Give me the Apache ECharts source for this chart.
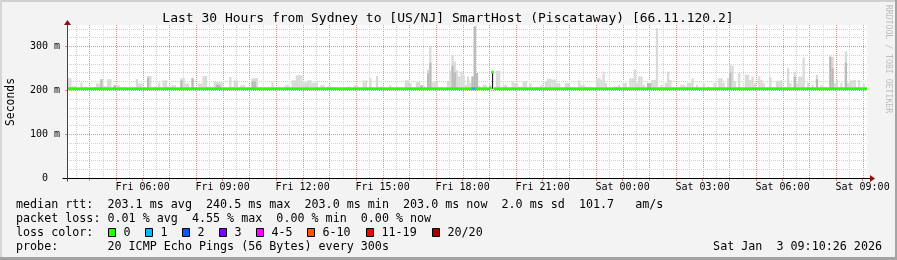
<!DOCTYPE html>
<html><head><meta charset="utf-8">
<script src="https://cdn.jsdelivr.net/npm/echarts@6/dist/echarts.min.js"></script>
<style>html,body{margin:0;padding:0;background:#f3f3f3}#c{width:897px;height:260px}</style>
</head><body><div id="c"></div>
<script>
// time in minutes since Fri 00:00; 5-minute steps from Fri 03:10 to Sat 09:10
const startMin = 190;
const stepMin = 5;
const endMin = 1990;

// top of the smoke (ms) per 5-minute step
const smokeMax = [
227,227,209,209,205,206,217,206,208,205, 206,205,207,215,215,225,209,209,225,225,
206,211,211,211,206,207,207,205,206,205, 206,225,215,215,206,205,232,232,206,208,
208,217,206,222,222,208,208,211,211,205, 206,227,227,215,215,206,227,206,205,215,
215,232,232,208,208,206,218,218,218,218, 206,205,206,230,207,222,222,206,211,211,
205,206,205,227,227,227,206,207,207,205, 206,205,218,206,208,208,205,206,211,211,
206,222,222,233,234,234,218,218,222,222, 217,217,217,206,211,211,205,208,208,208,
207,207,205,206,205,206,208,208,205,211, 211,206,205,222,222,206,227,206,205,232,
206,208,208,205,206,211,206,205,208,206, 205,206,222,222,215,206,205,218,218,211,
211,206,246,301,218,218,218,206,207,205, 206,221,244,279,265,245,231,242,234,212,
231,216,231,345,239,209,206,212,212,205, 212,241,206,244,244,206,212,212,205,206,
220,216,216,208,208,220,220,206,214,206, 206,208,206,212,206,220,226,226,224,224,
216,216,206,205,216,216,208,206,205,206, 222,212,212,208,206,208,206,206,227,227,
224,242,216,206,205,206,208,208,212,206, 216,216,206,227,227,247,216,231,231,212,
206,216,216,223,223,341,206,212,206,216, 242,223,206,206,208,206,212,212,208,216,
216,227,206,212,206,206,216,206,208,206, 206,216,206,227,227,216,206,227,258,255,
220,206,239,206,206,235,235,223,231,216, 206,231,223,216,206,206,229,206,206,221,
221,223,206,206,250,216,206,241,216,231, 231,274,206,216,206,212,206,235,206,212,
206,206,206,276,276,216,223,206,216,206, 288,216,222,222,223,206,223,206,216,206
];

// median rtt (ms) per step
const median = [
203,203,203,203,203,203,203,203,203,203, 203,203,203,203,203,203,203,203,203,203,
203,203,203,203,203,203,203,203,203,203, 203,203,203,203,203,203,203,203,203,203,
203,203,203,203,203,203,203,203,203,203, 203,203,203,203,203,203,203,203,203,203,
203,203,203,203,203,203,203,203,203,203, 203,203,203,203,203,203,203,203,203,203,
203,203,203,203,203,203,203,203,203,203, 203,203,203,203,203,203,203,203,203,203,
203,203,203,203,203,203,203,203,203,203, 203,203,203,203,203,203,203,203,203,203,
203,203,203,203,203,203,203,203,203,203, 203,203,203,203,203,203,203,203,203,203,
203,203,203,203,203,203,203,203,203,203, 203,203,203,203,203,203,203,203,203,203,
203,203,203,203,203,203,203,203,203,203, 203,203,203,203,203,203,203,203,203,203,
203,203,203,203,203,203,203,203,203,203, 205,241,203,203,203,203,203,203,203,203,
203,203,203,203,203,203,203,203,203,203, 203,203,203,203,203,203,203,203,203,203,
203,203,203,203,203,203,203,203,203,203, 203,203,203,203,203,203,203,203,203,203,
203,203,203,203,203,203,203,203,203,203, 203,203,203,203,203,203,203,203,203,203,
203,203,203,203,203,203,203,203,203,203, 203,203,203,203,203,203,203,203,203,203,
203,203,203,203,203,203,203,203,203,203, 203,203,203,203,203,203,203,203,203,203,
203,203,203,203,203,203,203,203,203,203, 203,203,203,203,203,203,203,203,203,203,
203,203,203,203,203,203,203,203,203,203, 203,203,203,203,203,203,203,203,203,203,
203,203,203,203,203,203,203,203,203,203, 203,203,203,203,203,203,203,203,203,203
];

// darker inner smoke: [step index, top ms]
const darkSmoke = [
[15,225],[21,211],[36,228],[51,222],[56,227],[67,212],[68,212],[83,220],[84,220],
[159,211],[162,238],[163,262],[173,255],[174,240],[182,231],[183,345],[184,239],
[261,216],[262,216],[298,240],[327,230],[337,225],[343,276],[344,250],[350,262]
];
// near-black bar: [step index, low ms, high ms]
const blackBars = [[191, 203, 241]];
// loss marks on the median: [step index, loss level index]
const lossPoints = [[182, 1], [183, 1]];

const lossLabels = ['0','1','2','3','4-5','6-10','11-19','20/20'];
const lossColors = ['#26ff00','#00b8ff','#0059ff','#7e00ff','#ff00ff','#ff5500','#ff0000','#a10000'];

const xLabelValues = [360,540,720,900,1080,1260,1440,1620,1800,1980];
const xLabelTexts = ['Fri 06:00','Fri 09:00','Fri 12:00','Fri 15:00','Fri 18:00','Fri 21:00','Sat 00:00','Sat 03:00','Sat 06:00','Sat 09:00'];
const yLabelValues = [0,100,200,300];
const yLabelTexts = ['0  ','100 m','200 m','300 m'];

const titleText = 'Last 30 Hours from Sydney to [US/NJ] SmartHost (Piscataway) [66.11.120.2]';
const statLines = [
  'median rtt:  203.1 ms avg  240.5 ms max  203.0 ms min  203.0 ms now  2.0 ms sd  101.7   am/s',
  'packet loss: 0.01 % avg  4.55 % max  0.00 % min  0.00 % now',
  'loss color:',
  'probe:       20 ICMP Echo Pings (56 Bytes) every 300s'
];
const dateText = 'Sat Jan  3 09:10:26 2026';
const sideText = 'RRDTOOL / TOBI OETIKER';

const yMax = 348;
const xOf = i => startMin + stepMin * (i + 0.5);

// grid lines: vertical every 30 min (major each hour), horizontal every 20 ms (major each 100 ms)
const vGrid = [], hGrid = [];
for (let m = 210; m < endMin; m += 30) vGrid.push(m);
for (let v = 20; v <= 340; v += 20) hGrid.push(v);
const hourTicks = [];
for (let m = 240; m < endMin; m += 60) hourTicks.push(m);

const chart = echarts.init(document.getElementById('c'), null, {renderer:'canvas'});
const mono = '"DejaVu Sans Mono", monospace';
const minorColor = '#d0d0d0';
const majorColor = '#f28a8a';

function rectRender(color, widthFrac) {
  return function (params, api) {
    const x = api.value(0), lo = api.value(1), hi = api.value(2);
    const pTop = api.coord([x, hi]);
    const pBot = api.coord([x, lo]);
    const w = api.size([stepMin, 0])[0] * (widthFrac || 1);
    return {
      type: 'rect',
      shape: {x: pTop[0] - w / 2, y: pTop[1], width: w, height: pBot[1] - pTop[1]},
      style: {fill: color}
    };
  };
}

const option = {
  backgroundColor: '#f3f3f3',
  animation: false,
  grid: {left: 67, right: 30, top: 25, bottom: 82, show: true, backgroundColor: '#ffffff', borderWidth: 0, z: 0},
  xAxis: {
    type: 'value', min: startMin, max: endMin,
    axisLine: {show: false},
    axisTick: {show: true, customValues: hourTicks, length: 3, lineStyle: {color: '#f08080'}},
    axisLabel: {
      customValues: xLabelValues, margin: 4,
      fontFamily: 'DejaVu Sans Mono', fontSize: 10, color: '#000',
      formatter: v => { const k = xLabelValues.indexOf(v); return k >= 0 ? xLabelTexts[k] : ''; }
    },
    splitLine: {show: false}
  },
  yAxis: {
    type: 'value', min: 0, max: yMax,
    axisLine: {show: false},
    axisTick: {show: true, customValues: yLabelValues, length: 2, lineStyle: {color: '#f08080'}},
    axisLabel: {
      customValues: yLabelValues, margin: 7,
      fontFamily: 'DejaVu Sans Mono', fontSize: 10, color: '#000',
      formatter: v => { const k = yLabelValues.indexOf(v); return k >= 0 ? yLabelTexts[k] : ''; }
    },
    splitLine: {show: false}
  },
  series: [
    {
      type: 'custom', z: 3, clip: true,
      renderItem: rectRender('#d9d9d9'),
      data: smokeMax.map((v, i) => [xOf(i), median[i] - 2, v])
    },
    {
      type: 'custom', z: 4, clip: true,
      renderItem: rectRender('#bababa'),
      data: darkSmoke.map(d => [xOf(d[0]), median[d[0]] - 2, d[1]])
    },
    {
      type: 'custom', z: 5, clip: true,
      renderItem: rectRender('#1a1a1a', 0.5),
      data: blackBars.map(d => [xOf(d[0]), d[1], d[2]])
    },
    {
      // median: one short segment per step, colored by loss
      type: 'custom', z: 6, clip: true,
      renderItem: function (params, api) {
        const x = api.value(0), v = api.value(1);
        const lp = lossPoints.find(d => d[0] === params.dataIndex);
        const p = api.coord([x, v]);
        const w = api.size([stepMin, 0])[0];
        return {type: 'rect', shape: {x: p[0] - w / 2 - 0.15, y: p[1] - 1.4, width: w + 0.3, height: 2.8},
          style: {fill: lossColors[lp ? lp[1] : 0]}};
      },
      data: median.map((v, i) => [xOf(i), v])
    }
  ]
};
chart.setOption(option);

// decorations positioned through the chart's own scales
const toPx = (x, y) => chart.convertToPixel({gridIndex: 0}, [x, y]);
const pBR = toPx(endMin, 0);
const pTL = toPx(startMin, yMax);
const ax = Math.round(pTL[0]) + 0.5, ay = Math.round(pBR[1]) + 0.5;
const arrowColor = '#8b1010';
const g = [];
vGrid.forEach(v => {
  const px = Math.round(toPx(v, 0)[0]) + 0.5;
  g.push({type: 'line', silent: true, z: 1, shape: {x1: px, y1: pTL[1], x2: px, y2: pBR[1]},
    style: {stroke: v % 60 === 0 ? majorColor : minorColor, lineWidth: 1, lineDash: [1, 1]}});
});
hGrid.forEach(v => {
  const py = Math.round(toPx(startMin, v)[1]) + 0.5;
  g.push({type: 'line', silent: true, z: 1, shape: {x1: pTL[0], y1: py, x2: pBR[0], y2: py},
    style: {stroke: v % 100 === 0 ? majorColor : minorColor, lineWidth: 1, lineDash: [1, 1]}});
});
g.push(
  {type: 'line', shape: {x1: ax - 5, y1: ay, x2: pBR[0] + 4, y2: ay}, style: {stroke: '#000', lineWidth: 1}, z: 50},
  {type: 'line', shape: {x1: ax, y1: ay + 3, x2: ax, y2: pTL[1] - 1}, style: {stroke: '#444', lineWidth: 1}, z: 50},
  {type: 'polygon', shape: {points: [[pBR[0] + 3, ay - 3.5], [pBR[0] + 8, ay], [pBR[0] + 3, ay + 3.5]]}, style: {fill: arrowColor}, z: 51},
  {type: 'polygon', shape: {points: [[ax - 3.5, pTL[1]], [ax, pTL[1] - 5], [ax + 3.5, pTL[1]]]}, style: {fill: arrowColor}, z: 51},
  {type: 'text', x: 448, y: 19, style: {text: titleText, font: '13px ' + mono, fill: '#000', align: 'center', verticalAlign: 'middle'}, z: 60},
  {type: 'text', x: 11, y: 102, rotation: Math.PI / 2, style: {text: 'Seconds', font: '11.4px ' + mono, fill: '#000', align: 'center', verticalAlign: 'middle'}, z: 60},
  {type: 'text', x: 888, y: 59, rotation: -Math.PI / 2, style: {text: sideText, font: '8.2px ' + mono, fill: '#bdbdbd', align: 'center', verticalAlign: 'middle'}, z: 60},
  {type: 'text', x: 882, y: 246.5, style: {text: dateText, font: '11.7px ' + mono, fill: '#000', align: 'right', verticalAlign: 'middle'}, z: 60},
  {type: 'rect', shape: {x: 0, y: 0, width: 897, height: 2}, style: {fill: '#cfcfcf'}, z: 70},
  {type: 'rect', shape: {x: 0, y: 0, width: 2, height: 260}, style: {fill: '#d6d6d6'}, z: 70},
  {type: 'rect', shape: {x: 0, y: 257, width: 897, height: 3}, style: {fill: '#a3a3a3'}, z: 70},
  {type: 'rect', shape: {x: 895, y: 0, width: 2, height: 260}, style: {fill: '#a3a3a3'}, z: 70}
);
statLines.forEach((t, k) => {
  g.push({type: 'text', x: 16, y: 204.5 + 14 * k, style: {text: t, font: '11.7px ' + mono, fill: '#000', align: 'left', verticalAlign: 'middle'}, z: 60});
});
const boxX = [108.5, 145.5, 182.5, 219.5, 256.5, 307.5, 366.5, 432.5];
lossLabels.forEach((t, k) => {
  g.push({type: 'rect', shape: {x: boxX[k], y: 228.5, width: 7, height: 8}, style: {fill: lossColors[k], stroke: '#000', lineWidth: 1}, z: 60});
  g.push({type: 'text', x: boxX[k] + 15, y: 232.5, style: {text: t, font: '11.7px ' + mono, fill: '#000', align: 'left', verticalAlign: 'middle'}, z: 60});
});
chart.setOption({graphic: g});
</script>
</body></html>
